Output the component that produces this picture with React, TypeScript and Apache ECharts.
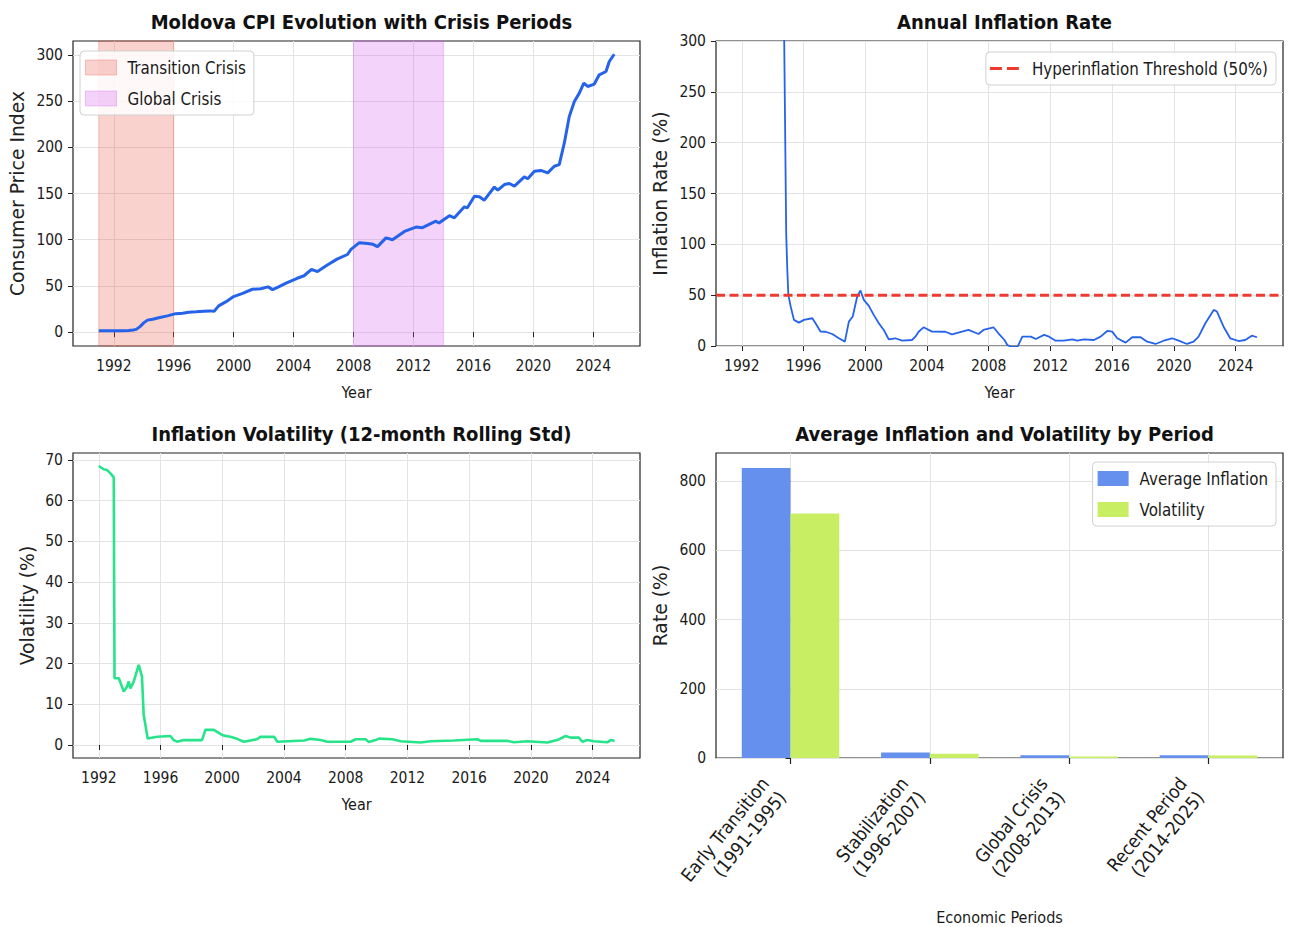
import React, { useEffect, useRef } from 'react';
import * as echarts from 'echarts';

// ---------------- Data ----------------
const cpiYears = [
  1991.0, 1991.5, 1992.0, 1992.5, 1993.0, 1993.3, 1993.5, 1993.75, 1994.0, 1994.25, 1994.6, 1995.0, 1995.58,
  1996.14, 1996.6, 1997.0, 1997.5, 1998.0, 1998.4, 1998.7, 1999.0, 1999.5, 2000.0, 2000.6, 2001.25, 2001.8,
  2002.3, 2002.6, 2003.0, 2003.5, 2004.2, 2004.7, 2005.2, 2005.6, 2006.2, 2006.9, 2007.6, 2007.83, 2008.39,
  2008.95, 2009.3, 2009.6, 2010.17, 2010.6, 2011.4, 2012.17, 2012.6, 2013.5, 2013.7, 2014.4, 2014.73, 2015.4,
  2015.6, 2016.07, 2016.4, 2016.73, 2017.4, 2017.63, 2018.07, 2018.4, 2018.74, 2019.4, 2019.63, 2020.07,
  2020.5, 2020.96, 2021.4, 2021.73, 2022.07, 2022.4, 2022.74, 2023.07, 2023.37, 2023.63, 2024.07, 2024.4,
  2024.85, 2025.07, 2025.4,
];
const cpiValues = [
  1.4, 1.4, 1.5, 1.6, 1.8, 2.3, 3.0, 6, 10, 13, 14, 15.5, 17.6,
  20, 20.5, 21.5, 22, 22.6, 23, 22.6, 28.4, 33, 38.5, 42, 46.4, 47,
  49, 46, 49, 53, 58, 61, 68, 65.5, 72, 79, 84, 89.6, 96.8,
  96, 95, 92.5, 102, 100, 109, 113.7, 113, 120, 118, 126, 123.7, 135.6,
  134.5, 147, 146.4, 142.8, 157, 153.6, 159.7, 160.8, 157.9, 168, 166, 174,
  175, 172.3, 179.5, 181.3, 204.7, 233.4, 249.6, 258.6, 269.4, 265.8, 268.4, 278.4,
  282, 292.8, 300.7,
];

const inflationYears = [
  1992.0, 1993.0, 1993.5, 1994.0, 1994.5, 1994.75, 1994.88, 1994.95, 1995.02, 1995.17, 1995.38, 1995.7,
  1996.03, 1996.57, 1996.78, 1997.11, 1997.43, 1997.86, 1998.29, 1998.68, 1998.94, 1999.19, 1999.48,
  1999.69, 1999.91, 2000.23, 2000.55, 2000.88, 2001.2, 2001.52, 2001.95, 2002.39, 2003.03, 2003.25,
  2003.46, 2003.78, 2004.33, 2005.19, 2005.62, 2006.69, 2007.34, 2007.66, 2008.31, 2008.63, 2009.02,
  2009.21, 2009.5, 2009.86, 2010.18, 2010.73, 2011.05, 2011.59, 2011.91, 2012.34, 2012.88, 2013.42,
  2013.74, 2014.17, 2014.82, 2015.25, 2015.68, 2016.0, 2016.33, 2016.87, 2017.3, 2017.84, 2018.27,
  2018.81, 2019.34, 2019.88, 2020.31, 2020.85, 2021.28, 2021.6, 2022.04, 2022.58, 2022.79, 2023.22,
  2023.65, 2024.19, 2024.62, 2025.05, 2025.38,
];
const inflationValues = [
  1100, 1500, 2200, 1800, 700, 300, 110, 75, 50, 38.8, 25.7, 23,
  25.7, 27.3, 22.4, 14.1, 14, 11.8, 7.6, 4.3, 24, 29, 48.7,
  54.6, 45.4, 39.5, 30.6, 22.4, 15.8, 6.6, 7.6, 5.2, 5.9, 9.2,
  14, 18.4, 14.1, 14, 11.5, 15.8, 11.8, 15.8, 18.4, 12.5, 5.9,
  1, -1, -1, 9.2, 9.2, 6.9, 10.9, 9.2, 5.2, 5.2, 6.6,
  5.2, 6.6, 5.9, 9.2, 14.8, 14.1, 7.6, 3.3, 8.6, 8.6, 4.3,
  2, 5.2, 7.6, 5.2, 2, 4.3, 9.2, 22.4, 35.5, 33.9, 19,
  7.6, 4.9, 5.9, 10.2, 8.6,
];

const volatilityYears = [
  1992.0, 1992.32, 1992.54, 1992.76, 1992.97, 1993.02, 1993.3, 1993.62, 1993.83, 1993.94, 1994.05, 1994.27,
  1994.59, 1994.8, 1994.91, 1995.17, 1995.78, 1996.64, 1996.86, 1997.07, 1997.5, 1998.69, 1998.91, 1999.45,
  1999.88, 2000.1, 2000.53, 2000.96, 2001.4, 2002.25, 2002.47, 2003.36, 2003.57, 2005.3, 2005.73, 2006.38,
  2006.81, 2008.32, 2008.64, 2009.29, 2009.5, 2009.94, 2010.16, 2011.02, 2011.56, 2012.86, 2013.5, 2015.02,
  2016.53, 2016.75, 2018.48, 2018.91, 2019.77, 2021.06, 2021.71, 2022.25, 2022.57, 2023.11, 2023.33, 2023.65,
  2024.08, 2024.95, 2025.16, 2025.42,
];
const volatilityValues = [
  68.5, 67.7, 67.5, 66.7, 65.7, 16.4, 16.4, 13.1, 14.3, 15.6, 13.9, 15.6,
  19.7, 16.8, 7.4, 1.6, 2.0, 2.2, 1.2, 0.8, 1.2, 1.2, 3.7, 3.7,
  2.7, 2.3, 2.0, 1.5, 0.8, 1.4, 2.0, 2.0, 0.8, 1.1, 1.5, 1.2,
  0.8, 0.8, 1.4, 1.4, 0.7, 1.2, 1.55, 1.4, 0.9, 0.6, 0.9, 1.1,
  1.4, 1.0, 1.0, 0.65, 0.9, 0.6, 1.2, 2.2, 1.8, 1.8, 0.8, 1.2,
  0.9, 0.65, 1.2, 1.0,
];

const transitionCrisis = [1991, 1996];
const globalCrisis = [2008, 2014];
const hyperThreshold = 50;

const periodLabels = [
  'Early Transition\n(1991-1995)',
  'Stabilization\n(1996-2007)',
  'Global Crisis\n(2008-2013)',
  'Recent Period\n(2014-2025)',
];
const avgInflation = [838, 16, 8, 8];
const periodVolatility = [706, 12, 4, 7];

const yearTicks = [1992, 1996, 2000, 2004, 2008, 2012, 2016, 2020, 2024];
const cpiTicks = [0, 50, 100, 150, 200, 250, 300];
const volatilityTicks = [0, 10, 20, 30, 40, 50, 60, 70];
const rateTicks = [0, 200, 400, 600, 800];
const periodTicks = [0, 1, 2, 3];

// ---------------- Styling ----------------
const FONT_C = "'DejaVu Sans Condensed', 'DejaVu Sans', sans-serif";
const FONT_R = "'DejaVu Sans', sans-serif";
const TEXT = '#1a1a1a';
const GRID_LINE = '#e3e3e3';
const THRESHOLD_RED = '#ee3b30';

const grids = [
  { left: 73, top: 41, width: 567, height: 305 },
  { left: 716, top: 41, width: 567, height: 305 },
  { left: 73, top: 453, width: 567, height: 305 },
  { left: 716, top: 453, width: 567, height: 305 },
];

const zip = (xs: number[], ys: number[]) => xs.map((x, i) => [x, ys[i]]);

const tickLabel = { color: TEXT, fontSize: 15.5, fontFamily: FONT_C };
const splitLine = { show: true, lineStyle: { color: GRID_LINE, width: 1 } };

function xAxisYears(gridIndex: number, min: number, max: number) {
  return {
    type: 'value',
    gridIndex,
    min,
    max,
    axisLine: { show: false },
    axisTick: { show: true, customValues: yearTicks, length: 5, lineStyle: { color: '#222', width: 1 } },
    axisLabel: { customValues: yearTicks, formatter: (v: number) => String(v), margin: 12, ...tickLabel },
    splitLine,
    name: 'Year',
    nameLocation: 'middle',
    nameGap: 38,
    nameMoveOverlap: false,
    nameTextStyle: { color: TEXT, fontSize: 16, fontFamily: FONT_C },
  };
}

function yAxisValues(gridIndex: number, min: number, max: number, ticks: number[], name: string, nameGap: number) {
  return {
    type: 'value',
    gridIndex,
    min,
    max,
    axisLine: { show: false },
    axisTick: { show: true, customValues: ticks, length: 5, lineStyle: { color: '#222', width: 1 } },
    axisLabel: { customValues: ticks, margin: 10, ...tickLabel },
    splitLine,
    name,
    nameLocation: 'middle',
    nameRotate: 90,
    nameGap,
    nameMoveOverlap: false,
    nameTextStyle: { color: '#222', fontSize: 18.8, fontFamily: FONT_R },
  };
}

const legendBase = {
  orient: 'vertical',
  backgroundColor: 'rgba(255,255,255,0.85)',
  borderColor: '#d0d0d0',
  borderWidth: 1,
  borderRadius: 4,
  itemWidth: 31,
  itemHeight: 15,
  itemGap: 14,
  textStyle: { color: TEXT, fontSize: 16.8, fontFamily: FONT_C, padding: [0, 0, 0, 6] },
  selectedMode: false,
};

const barWidthPx = (567 / (3.535 + 0.535)) * 0.35;

const option: any = {
  animation: false,
  backgroundColor: '#ffffff',
  textStyle: { fontFamily: FONT_C },
  title: [
    { text: 'Moldova CPI Evolution with Crisis Periods', left: 356.5, top: 7 },
    { text: 'Annual Inflation Rate', left: 999.5, top: 7 },
    { text: 'Inflation Volatility (12-month Rolling Std)', left: 356.5, top: 419 },
    { text: 'Average Inflation and Volatility by Period', left: 999.5, top: 419 },
  ].map((t) => ({
    ...t,
    textAlign: 'center',
    textStyle: { fontSize: 20, fontWeight: 'bold', color: '#111', fontFamily: FONT_C },
  })),
  grid: grids.map((g) => ({ ...g, show: true, borderColor: '#222', borderWidth: 1.2, backgroundColor: 'transparent' })),
  legend: [
    {
      ...legendBase,
      left: 80,
      top: 51,
      padding: [8, 8, 8, 5],
      data: [
        { name: 'Transition Crisis', icon: 'rect', itemStyle: { color: 'rgba(231,76,60,0.25)', borderColor: 'rgba(231,76,60,0.3)', borderWidth: 1 } },
        { name: 'Global Crisis', icon: 'rect', itemStyle: { color: 'rgba(210,80,240,0.25)', borderColor: 'rgba(210,80,240,0.3)', borderWidth: 1 } },
      ],
    },
    {
      ...legendBase,
      right: 14,
      top: 52,
      padding: [8, 8, 8, 4],
      itemWidth: 29,
      itemHeight: 3,
      textStyle: { ...legendBase.textStyle, padding: [0, 0, 0, 8] },
      data: [
        {
          name: 'Hyperinflation Threshold (50%)',
          icon: 'path://M0,0H12V3H0Z M17,0H29V3H17Z',
          itemStyle: { color: THRESHOLD_RED, borderWidth: 0 },
        },
      ],
    },
    {
      ...legendBase,
      right: 14,
      top: 462,
      padding: [8, 8, 8, 5],
      data: [
        { name: 'Average Inflation', icon: 'rect' },
        { name: 'Volatility', icon: 'rect' },
      ],
    },
  ],
  xAxis: [
    xAxisYears(0, 1989.28, 2027.12),
    xAxisYears(1, 1990.33, 2027.07),
    xAxisYears(2, 1990.33, 2027.07),
    {
      type: 'value',
      gridIndex: 3,
      min: -0.535,
      max: 3.535,
      axisLine: { show: false },
      axisTick: { show: true, customValues: periodTicks, length: 6, lineStyle: { color: '#222', width: 1.2 } },
      axisLabel: {
        customValues: periodTicks,
        formatter: (v: number) => periodLabels[Math.round(v)],
        rotate: 51,
        align: 'right',
        verticalAlign: 'middle',
        lineHeight: 22,
        padding: [0, 27, 0, 0],
        margin: 8,
        color: TEXT,
        fontSize: 18.5,
        fontFamily: FONT_C,
      },
      splitLine,
      name: 'Economic Periods',
      nameLocation: 'middle',
      nameGap: 151,
      nameMoveOverlap: false,
      nameTextStyle: { color: TEXT, fontSize: 16, fontFamily: FONT_C },
    },
  ],
  yAxis: [
    yAxisValues(0, -15, 315, cpiTicks, 'Consumer Price Index', 46),
    { ...yAxisValues(1, 0, 300, cpiTicks, 'Inflation Rate (%)', 46), interval: 50 },
    yAxisValues(2, -3.2, 71.7, volatilityTicks, 'Volatility (%)', 36),
    { ...yAxisValues(3, 0, 881, rateTicks, 'Rate (%)', 46), interval: 200 },
  ],
  series: [
    {
      name: 'Transition Crisis',
      type: 'line',
      xAxisIndex: 0,
      yAxisIndex: 0,
      data: [],
      silent: true,
      markArea: {
        silent: true,
        itemStyle: { color: 'rgba(231,76,60,0.25)', borderColor: 'rgba(231,76,60,0.3)', borderWidth: 1 },
        data: [[{ xAxis: transitionCrisis[0] }, { xAxis: transitionCrisis[1] }]],
      },
    },
    {
      name: 'Global Crisis',
      type: 'line',
      xAxisIndex: 0,
      yAxisIndex: 0,
      data: [],
      silent: true,
      markArea: {
        silent: true,
        itemStyle: { color: 'rgba(210,80,240,0.25)', borderColor: 'rgba(210,80,240,0.3)', borderWidth: 1 },
        data: [[{ xAxis: globalCrisis[0] }, { xAxis: globalCrisis[1] }]],
      },
    },
    {
      name: 'CPI',
      type: 'line',
      xAxisIndex: 0,
      yAxisIndex: 0,
      data: zip(cpiYears, cpiValues),
      showSymbol: false,
      symbol: 'none',
      lineStyle: { color: '#2563eb', width: 3 },
      itemStyle: { color: '#2563eb' },
      z: 5,
    },
    {
      name: 'Annual Inflation',
      type: 'line',
      xAxisIndex: 1,
      yAxisIndex: 1,
      data: zip(inflationYears, inflationValues),
      showSymbol: false,
      symbol: 'none',
      clip: true,
      lineStyle: { color: '#2563eb', width: 1.8 },
      itemStyle: { color: '#2563eb' },
      z: 4,
    },
    {
      name: 'Hyperinflation Threshold (50%)',
      type: 'line',
      xAxisIndex: 1,
      yAxisIndex: 1,
      data: [
        [1990.33, hyperThreshold],
        [2027.07, hyperThreshold],
      ],
      showSymbol: false,
      symbol: 'none',
      lineStyle: { color: THRESHOLD_RED, width: 3, type: [9, 4.5] },
      itemStyle: { color: THRESHOLD_RED },
      z: 5,
    },
    {
      name: 'Rolling Volatility',
      type: 'line',
      xAxisIndex: 2,
      yAxisIndex: 2,
      data: zip(volatilityYears, volatilityValues),
      showSymbol: false,
      symbol: 'none',
      lineStyle: { color: '#27e48a', width: 2.6 },
      itemStyle: { color: '#27e48a' },
      z: 4,
    },
    {
      name: 'Average Inflation',
      type: 'bar',
      xAxisIndex: 3,
      yAxisIndex: 3,
      data: avgInflation.map((v, i) => [i - 0.175, v]),
      barWidth: barWidthPx,
      barGap: '-100%',
      itemStyle: { color: '#6690ee' },
    },
    {
      name: 'Volatility',
      type: 'bar',
      xAxisIndex: 3,
      yAxisIndex: 3,
      data: periodVolatility.map((v, i) => [i + 0.175, v]),
      barWidth: barWidthPx,
      barGap: '-100%',
      itemStyle: { color: '#c8ee63' },
    },
  ],
};

export default function App() {
  const ref = useRef<HTMLDivElement>(null);
  useEffect(() => {
    if (!ref.current) return;
    const chart = echarts.init(ref.current, null, { renderer: 'svg', width: 1290, height: 927 });
    chart.setOption(option);
    return () => chart.dispose();
  }, []);
  return (
    <div
      ref={ref}
      style={{ position: 'absolute', left: 0, top: 0, width: 1290, height: 927, background: '#fff' }}
    />
  );
}
